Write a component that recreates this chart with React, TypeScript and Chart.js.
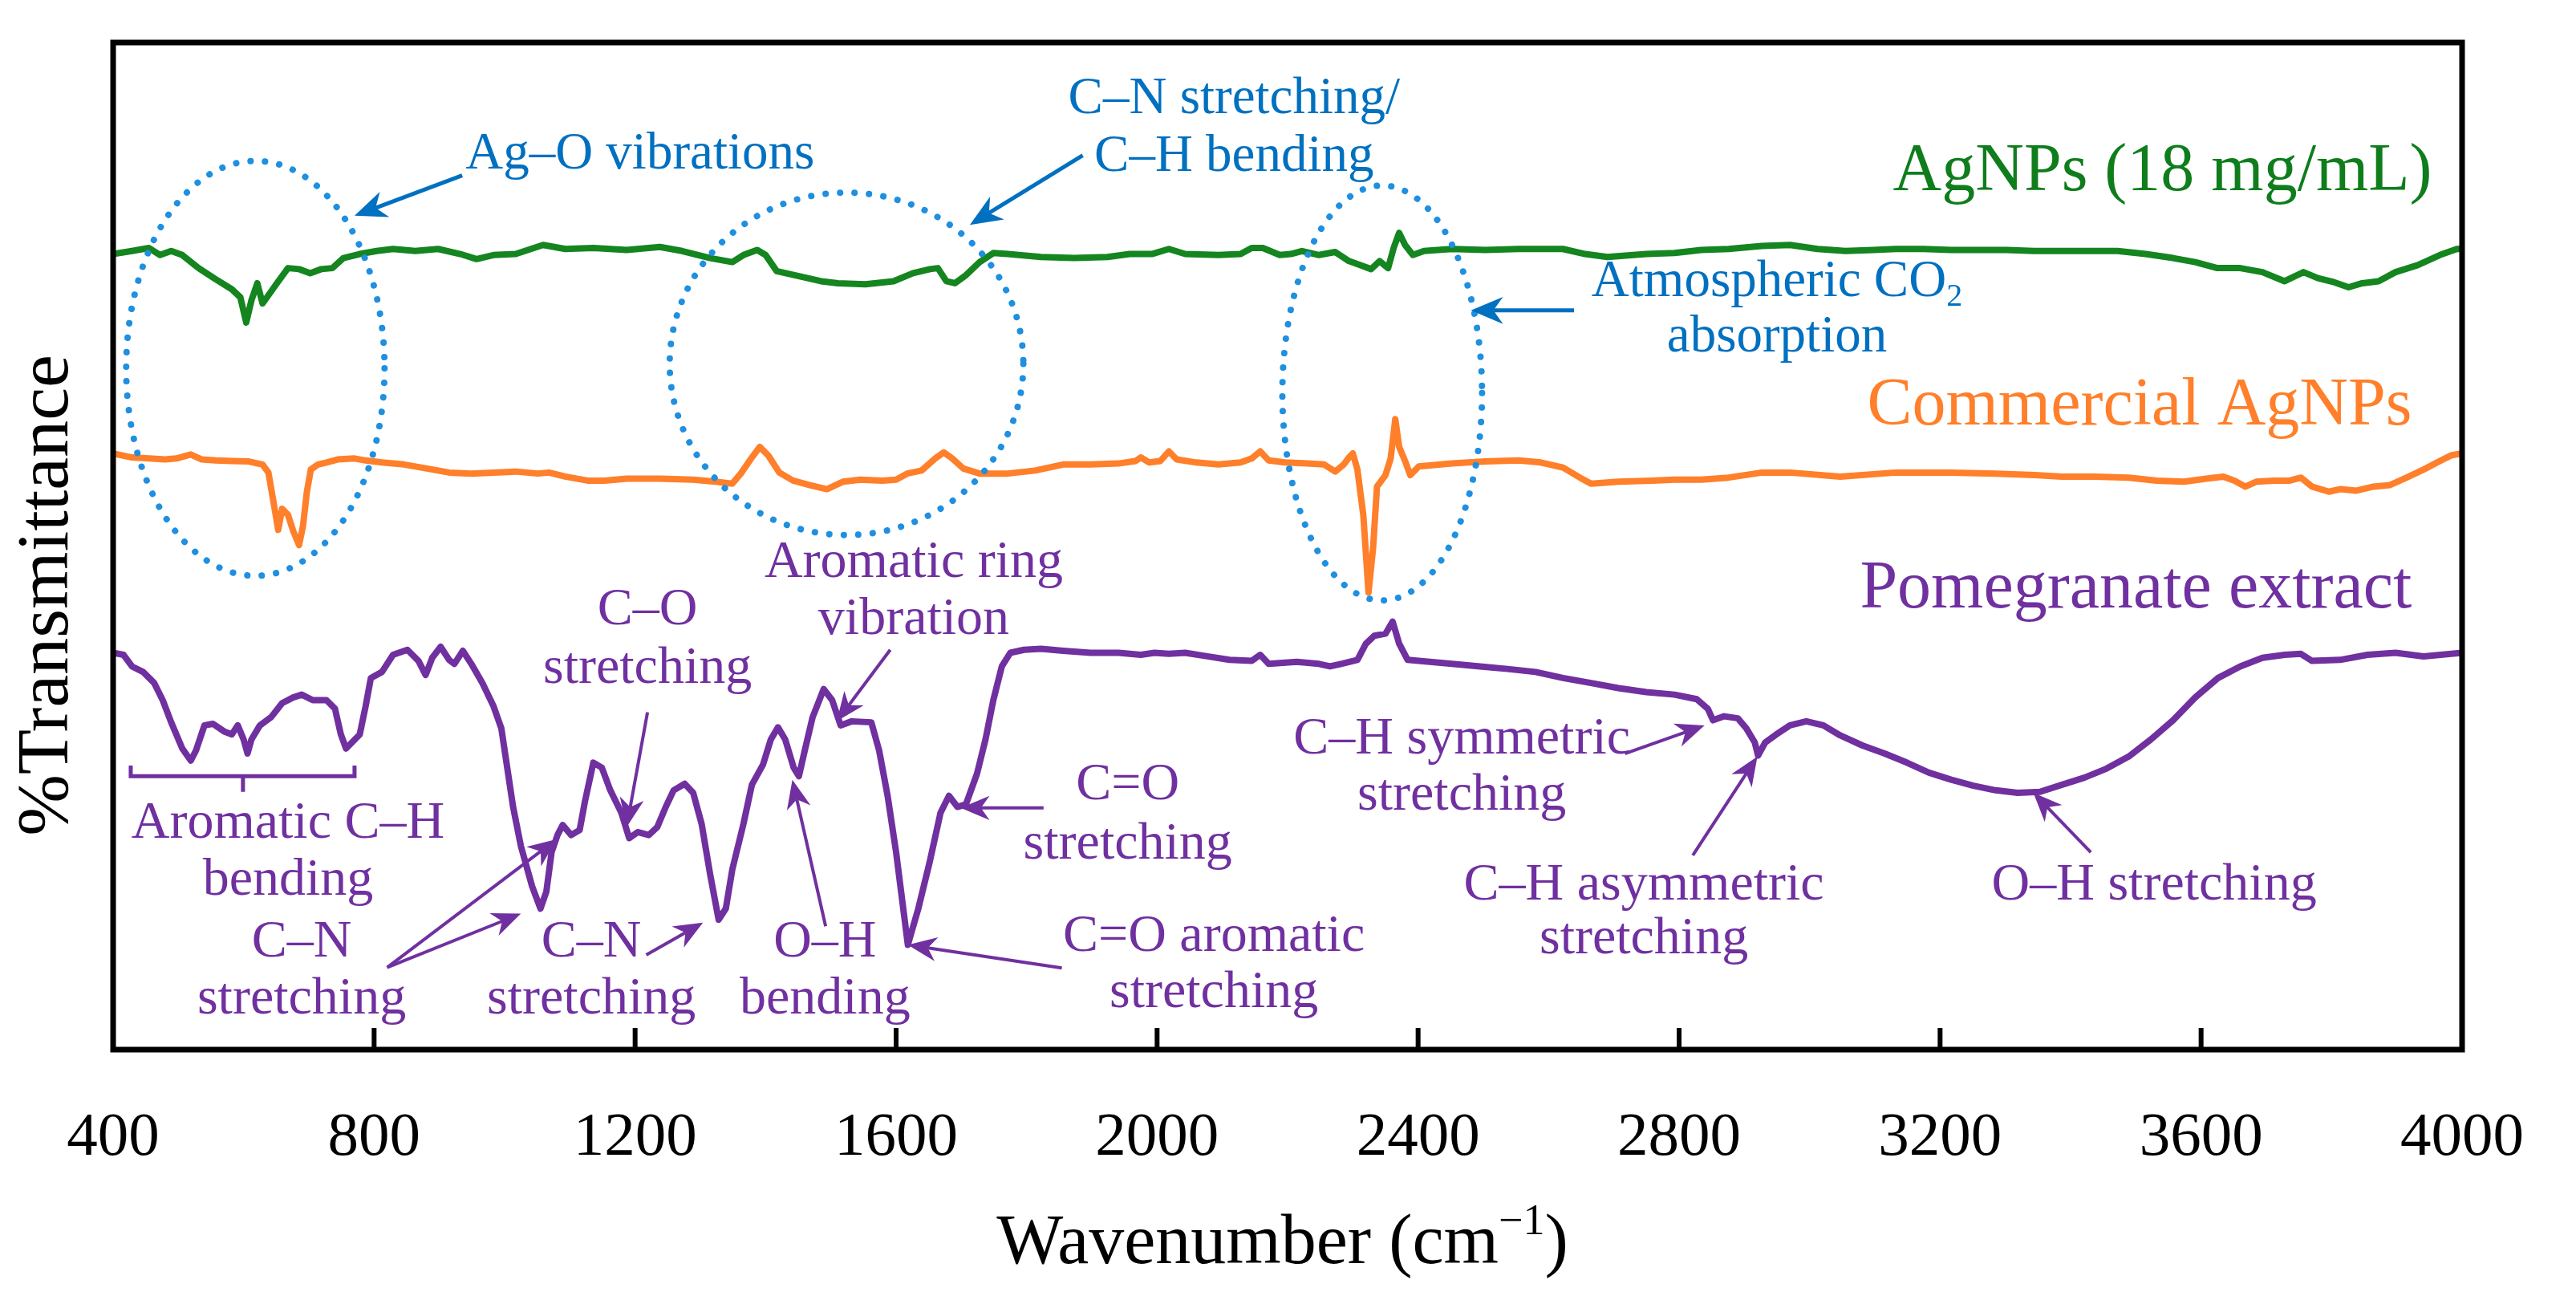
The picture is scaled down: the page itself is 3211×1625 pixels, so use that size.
import { useEffect, useRef } from "react"
import { Chart, registerables } from "chart.js"

Chart.register(...registerables)

const FONT = "'Liberation Serif', 'Times New Roman', serif"

// AgNPs (18 mg/mL) - green trace
const agnpWavenumber = [
  400, 429, 455, 472, 489, 506, 531, 557, 582, 595, 604, 612, 621, 629, 638, 651, 668, 685, 702, 719,
  736, 753, 778, 804, 829, 863, 898, 932, 957, 983, 1017, 1059, 1093, 1136, 1187, 1238, 1272, 1315, 1349, 1366,
  1387, 1400, 1417, 1451, 1485, 1511, 1553, 1596, 1626, 1652, 1664, 1677, 1690, 1707, 1728, 1749, 1771, 1822, 1873, 1924,
  1958, 1992, 2018, 2043, 2094, 2128, 2145, 2162, 2188, 2205, 2222, 2248, 2273, 2294, 2311, 2328, 2341, 2354, 2363, 2371,
  2380, 2392, 2409, 2452, 2503, 2554, 2622, 2656, 2690, 2750, 2793, 2834, 2876, 2927, 2970, 3012, 3055, 3098, 3132, 3174,
  3217, 3259, 3302, 3344, 3387, 3438, 3472, 3515, 3557, 3591, 3625, 3660, 3694, 3728, 3757, 3779, 3804, 3826, 3847, 3872,
  3898, 3932, 3966, 3992, 4000,
]
const agnpTransmittance = [
  79.0, 79.3, 79.6, 78.9, 79.3, 78.9, 77.6, 76.5, 75.5, 74.7, 72.2, 74.4, 76.1, 74.1, 74.9, 76.1, 77.6, 77.5, 77.1, 77.5,
  77.6, 78.6, 79.0, 79.3, 79.5, 79.3, 79.5, 79.0, 78.5, 78.9, 79.0, 79.9, 79.5, 79.6, 79.4, 79.7, 79.3, 78.6, 78.2, 78.9,
  79.4, 78.9, 77.3, 76.8, 76.3, 76.1, 76.0, 76.3, 77.1, 77.5, 77.6, 76.3, 76.1, 76.9, 78.2, 79.1, 79.0, 78.7, 78.6, 78.7,
  79.0, 79.0, 79.5, 79.0, 78.9, 79.0, 79.6, 79.6, 78.9, 79.0, 79.3, 78.9, 79.2, 78.3, 77.9, 77.5, 78.3, 77.6, 79.7, 81.1,
  79.9, 78.9, 79.3, 79.5, 79.4, 79.5, 79.5, 79.0, 78.7, 79.0, 79.1, 79.4, 79.5, 79.8, 79.9, 79.5, 79.3, 79.4, 79.5, 79.5,
  79.4, 79.4, 79.4, 79.3, 79.3, 79.3, 79.3, 79.0, 78.6, 78.2, 77.6, 77.6, 77.2, 76.3, 77.2, 76.6, 76.2, 75.7, 76.1, 76.3,
  77.2, 77.9, 78.9, 79.5, 79.5,
]

// Commercial AgNPs - orange trace
const commercialWavenumber = [
  400, 429, 455, 480, 497, 519, 536, 557, 582, 608, 629, 638, 646, 653, 659, 668, 676, 685, 691, 697,
  703, 714, 727, 744, 770, 787, 812, 846, 881, 915, 949, 983, 1017, 1051, 1068, 1093, 1127, 1153, 1187, 1238,
  1289, 1323, 1349, 1362, 1379, 1391, 1404, 1421, 1442, 1468, 1494, 1519, 1545, 1579, 1600, 1617, 1639, 1660, 1673, 1686,
  1703, 1728, 1771, 1813, 1856, 1898, 1941, 1967, 1975, 1988, 2005, 2018, 2030, 2060, 2094, 2128, 2145, 2158, 2171, 2196,
  2230, 2256, 2273, 2286, 2294, 2300, 2307, 2316, 2324, 2331, 2337, 2350, 2358, 2365, 2371, 2380, 2388, 2401, 2452, 2503,
  2554, 2588, 2622, 2648, 2665, 2707, 2758, 2793, 2834, 2876, 2927, 2970, 3047, 3132, 3217, 3285, 3345, 3387, 3438, 3489,
  3532, 3574, 3608, 3634, 3651, 3668, 3685, 3711, 3736, 3753, 3770, 3796, 3813, 3838, 3864, 3889, 3915, 3941, 3966, 3983,
  4000,
]
const commercialTransmittance = [
  59.2, 58.8, 58.7, 58.6, 58.7, 59.1, 58.6, 58.5, 58.45, 58.4, 58.1, 57.3, 54.3, 51.6, 53.7, 53.1, 51.5, 50.1, 52.0, 55.4,
  57.6, 58.1, 58.3, 58.6, 58.7, 58.5, 58.3, 58.1, 57.7, 57.3, 57.2, 57.3, 57.4, 57.2, 57.3, 56.9, 56.5, 56.5, 56.7, 56.7,
  56.6, 56.4, 56.2, 57.2, 58.8, 59.85, 59.0, 57.3, 56.5, 56.05, 55.65, 56.4, 56.6, 56.5, 56.6, 57.2, 57.5, 58.7, 59.3, 58.7,
  57.7, 57.2, 57.2, 57.5, 58.1, 58.1, 58.2, 58.45, 58.8, 58.3, 58.45, 59.4, 58.6, 58.3, 58.1, 58.3, 58.7, 59.4, 58.5, 58.3,
  58.2, 58.1, 57.4, 58.1, 58.8, 59.2, 57.6, 53.1, 45.4, 49.8, 55.9, 57.05, 58.7, 62.6, 59.85, 58.45, 57.05, 57.9, 58.2, 58.4,
  58.5, 58.3, 57.8, 56.8, 56.2, 56.4, 56.5, 56.6, 56.6, 56.8, 57.3, 57.3, 56.9, 57.3, 57.3, 57.2, 57.05, 56.9, 56.9, 56.8,
  56.5, 56.4, 56.7, 56.9, 56.5, 55.9, 56.4, 56.5, 56.5, 56.8, 55.9, 55.4, 55.65, 55.5, 55.9, 56.05, 56.8, 57.6, 58.45, 59.0,
  59.2,
]

// Pomegranate extract - purple trace
const extractWavenumber = [
  400, 416, 429, 446, 463, 476, 489, 506, 519, 527, 540, 553, 570, 582, 591, 600, 606, 612, 625, 642,
  659, 676, 689, 706, 727, 740, 749, 757, 766, 778, 787, 795, 812, 829, 851, 868, 879, 889, 902, 915,
  923, 936, 949, 966, 983, 995, 1004, 1013, 1025, 1042, 1055, 1064, 1072, 1081, 1089, 1102, 1115, 1123, 1136, 1149,
  1162, 1179, 1191, 1204, 1221, 1234, 1247, 1259, 1276, 1289, 1302, 1315, 1328, 1339, 1349, 1366, 1379, 1396, 1408, 1419,
  1430, 1443, 1451, 1460, 1472, 1489, 1502, 1515, 1532, 1562, 1574, 1587, 1600, 1609, 1618, 1634, 1651, 1668, 1681, 1694,
  1707, 1724, 1737, 1749, 1762, 1775, 1796, 1822, 1856, 1898, 1941, 1975, 1996, 2018, 2043, 2077, 2111, 2145, 2158, 2171,
  2214, 2248, 2265, 2282, 2307, 2320, 2333, 2350, 2361, 2371, 2384, 2418, 2452, 2495, 2537, 2580, 2622, 2665, 2707, 2750,
  2793, 2827, 2844, 2852, 2869, 2890, 2903, 2916, 2921, 2932, 2949, 2970, 2995, 3021, 3047, 3081, 3115, 3149, 3183, 3217,
  3251, 3285, 3319, 3353, 3387, 3421, 3455, 3489, 3523, 3557, 3591, 3626, 3660, 3694, 3728, 3753, 3770, 3813, 3855, 3898,
  3941, 4000,
]
const extractTransmittance = [
  39.4, 39.2, 38.05, 37.5, 36.4, 34.7, 32.5, 29.9, 28.7, 29.7, 32.2, 32.35, 31.6, 31.3, 32.2, 30.8, 29.4, 30.8, 32.2, 33.0,
  34.4, 34.97, 35.25, 34.7, 34.7, 33.85, 31.3, 29.9, 30.5, 31.3, 34.1, 36.9, 37.5, 39.2, 39.7, 38.6, 37.2, 38.9, 40.0, 38.7,
  38.3, 39.6, 38.3, 36.4, 34.1, 31.9, 28.0, 24.1, 20.2, 16.25, 14.0, 15.7, 19.6, 21.3, 22.3, 21.3, 21.8, 24.6, 28.5, 28.0,
  25.75, 23.5, 21.0, 21.6, 21.3, 22.1, 24.1, 25.75, 26.4, 25.5, 22.4, 17.4, 12.9, 14.0, 17.9, 22.4, 26.3, 28.3, 30.8, 32.0,
  30.8, 28.0, 27.15, 29.7, 33.0, 35.8, 34.7, 32.2, 32.6, 32.5, 29.7, 25.2, 19.6, 15.0, 10.4, 14.0, 18.5, 23.5, 25.2, 24.1,
  24.35, 27.4, 30.8, 34.7, 38.05, 39.4, 39.7, 39.8, 39.6, 39.4, 39.4, 39.2, 39.4, 39.3, 39.4, 39.05, 38.7, 38.6, 39.2, 38.3,
  38.5, 38.3, 38.05, 38.3, 38.7, 40.3, 41.1, 41.3, 42.5, 40.3, 38.7, 38.5, 38.3, 38.05, 37.8, 37.5, 36.9, 36.4, 35.9, 35.5,
  35.25, 34.8, 33.85, 32.7, 33.1, 32.9, 31.9, 30.5, 29.2, 30.5, 31.3, 32.2, 32.6, 32.2, 31.2, 30.2, 29.4, 28.5, 27.5, 26.8,
  26.2, 25.75, 25.5, 25.6, 26.3, 27.0, 27.9, 29.1, 30.8, 32.7, 34.97, 36.9, 38.05, 38.9, 39.2, 39.3, 38.6, 38.7, 39.2, 39.4,
  39.05, 39.4,
]

const xTickValues = [400, 800, 1200, 1600, 2000, 2400, 2800, 3200, 3600, 4000]

const GREEN = "#14851f"
const ORANGE = "#ff7f2a"
const PURPLE = "#7030a0"
const BLUE = "#0070c0"
const DOT_BLUE = "#1f8fe0"

type Note = {
  lines: string[]
  wn: number
  t: number[]
  color: string
  size: number
  align?: CanvasTextAlign
  sub?: string
}

const notes: Note[] = [
  { lines: ["AgNPs (18 mg/mL)"], wn: 3954, t: [85.3], color: "#0f7d1c", size: 84, align: "right" },
  { lines: ["Commercial AgNPs"], wn: 3923, t: [62.1], color: ORANGE, size: 84, align: "right" },
  { lines: ["Pomegranate extract"], wn: 3923, t: [43.9], color: PURPLE, size: 84, align: "right" },
  { lines: ["Ag–O vibrations"], wn: 940, t: [87.5], color: BLUE, size: 65, align: "left" },
  { lines: ["C–N stretching/", "C–H bending"], wn: 2118, t: [93.0, 87.25], color: BLUE, size: 65 },
  { lines: ["Atmospheric CO", "absorption"], sub: "2", wn: 2950, t: [74.8, 69.35], color: BLUE, size: 65 },
  { lines: ["Aromatic ring", "vibration"], wn: 1627, t: [46.9, 41.3], color: PURPLE, size: 66 },
  { lines: ["C–O", "stretching"], wn: 1219, t: [42.25, 36.4], color: PURPLE, size: 66 },
  { lines: ["Aromatic C–H", "bending"], wn: 668, t: [21.0, 15.4], color: PURPLE, size: 66 },
  { lines: ["C–N", "stretching"], wn: 689, t: [9.25, 3.6], color: PURPLE, size: 66 },
  { lines: ["C–N", "stretching"], wn: 1133, t: [9.25, 3.6], color: PURPLE, size: 66 },
  { lines: ["O–H", "bending"], wn: 1491, t: [9.25, 3.6], color: PURPLE, size: 66 },
  { lines: ["C=O aromatic", "stretching"], wn: 2087, t: [9.8, 4.2], color: PURPLE, size: 66 },
  { lines: ["C=O", "stretching"], wn: 1955, t: [24.9, 19.0], color: PURPLE, size: 66 },
  { lines: ["C–H symmetric", "stretching"], wn: 2467, t: [29.4, 23.8], color: PURPLE, size: 66 },
  { lines: ["C–H asymmetric", "stretching"], wn: 2746, t: [14.9, 9.55], color: PURPLE, size: 66 },
  { lines: ["O–H stretching"], wn: 3528, t: [14.9], color: PURPLE, size: 66 },
]

// [fromWn, fromT, toWn, toT]
const blueArrows = [
  [935, 86.8, 770, 82.8],
  [1886, 88.8, 1713, 81.9],
  [2639, 73.4, 2481, 73.4],
]
const purpleArrows = [
  [1591, 39.7, 1509, 32.6],
  [1219, 33.5, 1187, 22.1],
  [820, 8.15, 1080, 20.9],
  [820, 8.15, 1025, 13.5],
  [1217, 9.4, 1304, 12.6],
  [1492, 12.25, 1441, 26.8],
  [1854, 8.1, 1618, 10.4],
  [1826, 24.0, 1699, 24.0],
  [2717, 29.4, 2839, 32.2],
  [2821, 19.3, 2920, 29.1],
  [3431, 19.6, 3343, 25.5],
]

// dotted regions: centre wn, centre T, half-width (wn), half-height (T)
const regions = [
  [618, 67.65, 198, 20.6],
  [1524, 68.1, 271, 17.0],
  [2345, 65.2, 153, 20.6],
]

function drawArrow(ctx: CanvasRenderingContext2D, x1: number, y1: number, x2: number, y2: number, color: string, width: number, head: number) {
  const ang = Math.atan2(y2 - y1, x2 - x1)
  const notch = head * 0.3
  ctx.strokeStyle = color
  ctx.fillStyle = color
  ctx.lineWidth = width
  ctx.beginPath()
  ctx.moveTo(x1, y1)
  ctx.lineTo(x2 - Math.cos(ang) * (head - notch), y2 - Math.sin(ang) * (head - notch))
  ctx.stroke()
  ctx.save()
  ctx.translate(x2, y2)
  ctx.rotate(ang)
  ctx.beginPath()
  ctx.moveTo(0, 0)
  ctx.lineTo(-head, -head * 0.42)
  ctx.lineTo(-head + notch, 0)
  ctx.lineTo(-head, head * 0.42)
  ctx.closePath()
  ctx.fill()
  ctx.restore()
}

const overlayPlugin = {
  id: "ftirOverlay",
  afterDatasetsDraw(chart: Chart) {
    const ctx = chart.ctx
    const X = (v: number) => chart.scales.x.getPixelForValue(v)
    const Y = (v: number) => chart.scales.y.getPixelForValue(v)
    ctx.save()

    // dotted ellipses
    ctx.strokeStyle = DOT_BLUE
    ctx.lineWidth = 8
    ctx.lineCap = "round"
    ctx.setLineDash([0.1, 18])
    for (const [wn, t, rw, rt] of regions) {
      ctx.beginPath()
      ctx.ellipse(X(wn), Y(t), X(wn + rw) - X(wn), Y(t) - Y(t + rt), 0, 0, Math.PI * 2)
      ctx.stroke()
    }
    ctx.setLineDash([])
    ctx.lineCap = "butt"

    for (const [a, b, c, d] of blueArrows) drawArrow(ctx, X(a), Y(b), X(c), Y(d), BLUE, 5, 40)
    for (const [a, b, c, d] of purpleArrows) drawArrow(ctx, X(a), Y(b), X(c), Y(d), PURPLE, 4, 36)

    // bracket under aromatic C-H bending
    ctx.strokeStyle = PURPLE
    ctx.lineWidth = 5
    ctx.beginPath()
    ctx.moveTo(X(427), Y(28.2))
    ctx.lineTo(X(427), Y(27.15))
    ctx.lineTo(X(770), Y(27.15))
    ctx.lineTo(X(770), Y(28.2))
    ctx.moveTo(X(599), Y(27.15))
    ctx.lineTo(X(599), Y(25.6))
    ctx.stroke()

    // text notes
    ctx.textBaseline = "alphabetic"
    for (const n of notes) {
      ctx.fillStyle = n.color
      ctx.font = `${n.size}px ${FONT}`
      n.lines.forEach((line, i) => {
        const y = Y(n.t[i])
        if (i === 0 && n.sub) {
          const w1 = ctx.measureText(line).width
          ctx.font = `${Math.round(n.size * 0.62)}px ${FONT}`
          const w2 = ctx.measureText(n.sub).width
          const x0 = X(n.wn) - (w1 + w2) / 2
          ctx.textAlign = "left"
          ctx.fillText(n.sub, x0 + w1, y + n.size * 0.18)
          ctx.font = `${n.size}px ${FONT}`
          ctx.fillText(line, x0, y)
        } else {
          ctx.textAlign = n.align ?? "center"
          ctx.fillText(line, X(n.wn), y)
        }
      })
    }
    ctx.restore()
  },
  afterDraw(chart: Chart) {
    const ctx = chart.ctx
    const { left, right, top, bottom } = chart.chartArea
    const X = (v: number) => chart.scales.x.getPixelForValue(v)
    const Y = (v: number) => chart.scales.y.getPixelForValue(v)
    ctx.save()
    // frame
    ctx.strokeStyle = "#000"
    ctx.lineWidth = 7
    ctx.strokeRect(left, top, right - left, bottom - top)
    // inward tick marks
    ctx.lineWidth = 6
    ctx.beginPath()
    for (const v of xTickValues.slice(1, -1)) {
      ctx.moveTo(X(v), bottom)
      ctx.lineTo(X(v), bottom - 27)
    }
    ctx.stroke()

    ctx.fillStyle = "#000"
    // y title
    ctx.save()
    ctx.translate(left - 57, Y(45.1))
    ctx.rotate(-Math.PI / 2)
    ctx.font = `92px ${FONT}`
    ctx.textAlign = "center"
    ctx.textBaseline = "alphabetic"
    ctx.fillText("%Transmittance", 0, 0)
    ctx.restore()

    // x title with superscript
    const main = "Wavenumber (cm"
    const sup = "−1"
    ctx.textAlign = "left"
    ctx.textBaseline = "alphabetic"
    ctx.font = `88px ${FONT}`
    const w1 = ctx.measureText(main).width
    const w3 = ctx.measureText(")").width
    ctx.font = `54px ${FONT}`
    const w2 = ctx.measureText(sup).width
    const base = bottom + 266
    const x0 = X(2192) - (w1 + w2 + w3) / 2
    ctx.fillText(sup, x0 + w1, base - 36)
    ctx.font = `88px ${FONT}`
    ctx.fillText(main, x0, base)
    ctx.fillText(")", x0 + w1 + w2, base)
    ctx.restore()
  },
}

function toPoints(xs: number[], ys: number[]) {
  return xs.map((x, i) => ({ x, y: ys[i] }))
}

export default function App() {
  const chartRef = useRef<HTMLCanvasElement>(null)
  const chartInstance = useRef<Chart | null>(null)

  useEffect(() => {
    if (!chartRef.current) return
    const ctx = chartRef.current.getContext("2d")
    if (!ctx) return
    if (chartInstance.current) chartInstance.current.destroy()

    const line = (label: string, data: { x: number; y: number }[], color: string) => ({
      label,
      data,
      borderColor: color,
      backgroundColor: color,
      borderWidth: 8,
      pointRadius: 0,
      tension: 0,
      fill: false,
      borderJoinStyle: "round" as const,
      borderCapStyle: "round" as const,
    })

    chartInstance.current = new Chart(ctx, {
      type: "line",
      data: {
        datasets: [
          line("AgNPs (18 mg/mL)", toPoints(agnpWavenumber, agnpTransmittance), GREEN),
          line("Commercial AgNPs", toPoints(commercialWavenumber, commercialTransmittance), ORANGE),
          line("Pomegranate extract", toPoints(extractWavenumber, extractTransmittance), PURPLE),
        ],
      },
      options: {
        animation: false,
        responsive: true,
        maintainAspectRatio: false,
        layout: { padding: { top: 53, right: 104, left: 0, bottom: 0 } },
        plugins: {
          legend: { display: false },
          tooltip: { enabled: false },
        },
        scales: {
          x: {
            type: "linear",
            min: 400,
            max: 4000,
            border: { display: false },
            grid: { display: false, drawTicks: false },
            afterBuildTicks: (scale) => {
              scale.ticks = xTickValues.map((value) => ({ value }))
            },
            ticks: {
              autoSkip: false,
              maxRotation: 0,
              padding: 65,
              color: "#000",
              font: { family: FONT, size: 77 },
              callback: (v) => String(v),
            },
            afterFit: (scale) => {
              scale.height = 317
            },
          },
          y: {
            min: 0,
            max: 100,
            border: { display: false },
            grid: { display: false, drawTicks: false },
            ticks: { display: false },
            afterFit: (scale) => {
              scale.width = 141
            },
          },
        },
      },
      plugins: [overlayPlugin],
    })

    return () => {
      if (chartInstance.current) {
        chartInstance.current.destroy()
        chartInstance.current = null
      }
    }
  }, [])

  return (
    <div style={{ position: "fixed", left: 0, top: 0, width: 3211, height: 1625, background: "#fff" }}>
      <canvas ref={chartRef} />
    </div>
  )
}
